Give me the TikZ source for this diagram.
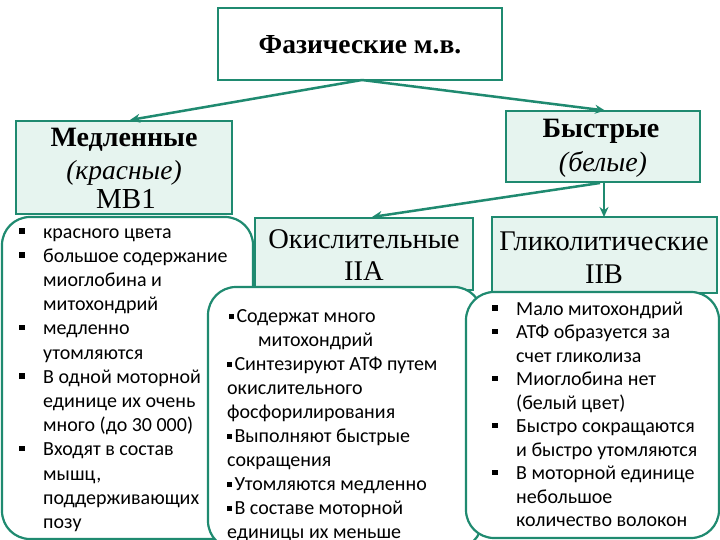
\documentclass[tikz,border=0pt]{standalone}
\usepackage{fontspec}
\setmainfont{Liberation Serif}
\newfontfamily\listfont{Carlito}
\usetikzlibrary{arrows.meta}
\definecolor{teal1}{HTML}{1F8A70}
\definecolor{mint}{HTML}{E6F4EF}
\newcommand\bul{\rule[0.14em]{0.24em}{0.24em}\hspace{2.5pt}}
\begin{document}
\begin{tikzpicture}[x=1pt,y=-1pt,
 titlebox/.style={draw=teal1, line width=2pt, fill=mint, inner sep=0pt},
 listbox/.style={draw=teal1, line width=2.2pt, fill=white, rounded corners=28pt, inner sep=0pt},
 conn/.style={draw=teal1, line width=2.5pt, -{Stealth[length=10pt,width=9pt]}},
 li/.style={anchor=base west, inner sep=0pt, font=\listfont\fontsize{20}{24}\selectfont},
 ttl/.style={anchor=base, inner sep=0pt, font=\fontsize{28.5}{32}\selectfont},
]
\useasboundingbox (0,0) rectangle (720,540);
\fill[white] (0,0) rectangle (720,540);

% top
\node[titlebox, fill=white, minimum width=284pt, minimum height=72pt] (top) at (360,44) {};
\node[ttl, font=\bfseries\fontsize{27.5}{32}\selectfont] (topA) at (360,54) {Фазические м.в.};

% slow
\node[titlebox, minimum width=216pt, minimum height=93pt] (slow) at (124,167.5) {};
\node[ttl, font=\bfseries\fontsize{28}{30}\selectfont] (slowA) at (124,147) {Медленные};
\node[ttl, font=\itshape\fontsize{27.5}{30}\selectfont] (slowB) at (124,180) {(красные)};
\node[ttl, font=\fontsize{29}{30}\selectfont] (slowC) at (126,208) {МВ1};

% fast
\node[titlebox, minimum width=194pt, minimum height=71pt] (fast) at (603,147) {};
\node[ttl, font=\bfseries\fontsize{28}{30}\selectfont] (fastA) at (601,138) {Быстрые};
\node[ttl, font=\itshape\fontsize{28}{30}\selectfont] (fastB) at (603,172) {(белые)};

% connectors
\coordinate (topb) at (362,80);
\draw[conn] (topb) -- (slow.north -| 130,0);
\draw[conn] (topb) -- (fast.north -| 605,0);
\coordinate (fastb) at (600,183);
\draw[conn] (fastb) -- (372,217);
\draw[conn] (fast.south -| 604,0) -- (604,217);

% left list box
\node[listbox, minimum width=251pt, minimum height=322pt] (leftbox) at (127.5,378) {};
\foreach \b/\t [count=\i] in {1/красного цвета, 1/большое содержание, 0/миоглобина и,
  0/митохондрий, 1/медленно, 0/утомляются, 1/В одной моторной, 0/единице их очень,
  0/много (до 30 000), 1/Входят в состав, 0/{мышц,}, 0/поддерживающих, 0/позу}{
  \pgfmathsetmacro\yy{238+24.2*(\i-1)}
  \node[li] (L\i) at (43,\yy) {\t};
  \ifnum\b=1 \fill (19,\yy-10) rectangle (24.5,\yy-4.5); \fi
}

% oxidative title
\node[titlebox, minimum width=218pt, minimum height=72pt] (ox) at (364,254) {};
\node[ttl] (oxA) at (364,248) {Окислительные};
\node[ttl] (oxB) at (364,280) {IIA};

% glycolytic title
\node[titlebox, minimum width=225pt, minimum height=76pt] (gl) at (604.5,255) {};
\node[ttl] (glA) at (604,250) {Гликолитические};
\node[ttl] (glB) at (604,283) {IIB};

% middle list box
\node[listbox, minimum width=274pt, minimum height=262pt] (midbox) at (345,418) {};
\foreach \x/\t [count=\i] in {229/\bul Содержат много, 258/митохондрий,
  227/\bul Синтезируют АТФ путем, 227/окислительного, 227/фосфорилирования,
  227/\bul Выполняют быстрые, 227/сокращения, 227/\bul Утомляются медленно,
  227/\bul В составе моторной, 227/единицы их меньше}{
  \pgfmathsetmacro\yy{322+24*(\i-1)}
  \node[li] (M\i) at (\x,\yy) {\t};
}

% right list box
\node[listbox, minimum width=253pt, minimum height=246pt] (rightbox) at (592.5,415) {};
\foreach \b/\t [count=\i] in {1/Мало митохондрий, 1/АТФ образуется за, 0/счет гликолиза,
  1/Миоглобина нет, 0/(белый цвет), 1/Быстро сокращаются, 0/и быстро утомляются,
  1/В моторной единице, 0/небольшое, 0/количество волокон}{
  \pgfmathsetmacro\yy{315+23.5*(\i-1)}
  \node[li] (R\i) at (516,\yy) {\t};
  \ifnum\b=1 \fill (492,\yy-10) rectangle (497.5,\yy-4.5); \fi
}
\end{tikzpicture}
\end{document}
